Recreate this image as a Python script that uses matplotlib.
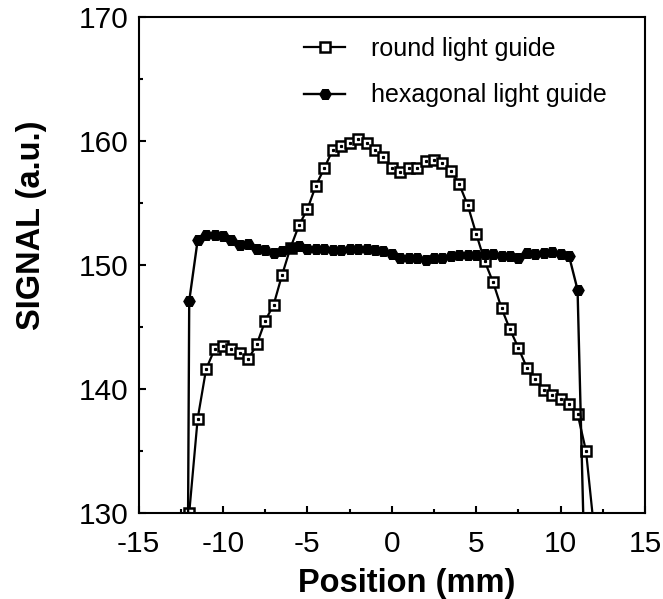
import matplotlib
matplotlib.use("Agg")
import matplotlib.pyplot as plt
from matplotlib.ticker import MultipleLocator

plt.rcParams['font.family'] = ['Liberation Sans', 'DejaVu Sans']
plt.rcParams['axes.unicode_minus'] = False

# position (mm), 0.5 mm steps
pos_round = [-12, -11.5, -11, -10.5, -10, -9.5, -9, -8.5, -8, -7.5, -7, -6.5,
             -6, -5.5, -5, -4.5, -4, -3.5, -3, -2.5, -2, -1.5, -1, -0.5,
             0, 0.5, 1, 1.5, 2, 2.5, 3, 3.5, 4, 4.5, 5, 5.5, 6, 6.5,
             7, 7.5, 8, 8.5, 9, 9.5, 10, 10.5, 11, 11.5, 12]
sig_round = [130.0, 137.6, 141.6, 143.2, 143.5, 143.25, 142.9, 142.4, 143.6, 145.5, 146.8, 149.2,
             151.4, 153.2, 154.5, 156.4, 157.8, 159.3, 159.6, 159.8, 160.2, 159.8, 159.3, 158.7,
             157.8, 157.5, 157.8, 157.8, 158.4, 158.5, 158.25, 157.6, 156.5, 154.8, 152.5, 150.3,
             148.6, 146.5, 144.8, 143.3, 141.7, 140.8, 139.9, 139.5, 139.2, 138.8, 138.0, 135.0, 128.4]

pos_hex = [-12.5, -12, -11.5, -11, -10.5, -10, -9.5, -9, -8.5, -8, -7.5, -7, -6.5,
           -6, -5.5, -5, -4.5, -4, -3.5, -3, -2.5, -2, -1.5, -1, -0.5,
           0, 0.5, 1, 1.5, 2, 2.5, 3, 3.5, 4, 4.5, 5, 5.5, 6, 6.5,
           7, 7.5, 8, 8.5, 9, 9.5, 10, 10.5, 11, 11.5]
sig_hex = [20.0, 147.1, 152.0, 152.4, 152.4, 152.3, 152.0, 151.6, 151.7, 151.3, 151.2, 151.0, 151.15,
           151.35, 151.5, 151.3, 151.3, 151.3, 151.2, 151.2, 151.3, 151.3, 151.3, 151.2, 151.1,
           150.9, 150.6, 150.6, 150.6, 150.4, 150.6, 150.6, 150.7, 150.8, 150.8, 150.8, 150.9, 150.9, 150.7,
           150.7, 150.6, 151.0, 150.9, 151.0, 151.05, 150.9, 150.7, 148.0, 121.0]

fig = plt.figure(figsize=(6.63, 5.99), dpi=100)
ax = fig.add_axes([0.209, 0.1436, 0.764, 0.828])

ax.plot(pos_round, sig_round, color='black', lw=1.6, marker='s', ms=6.5,
        mfc='white', mec='black', mew=1.8, label='round light guide')
# petit point au centre des carres
ax.plot(pos_round, sig_round, ls='none', marker='s', ms=1.3, mfc='black', mec='black')
ax.plot(pos_hex, sig_hex, color='black', lw=1.7, marker='H', ms=8,
        mfc='black', mec='black', label='hexagonal light guide')

ax.set_xlim(-15, 15)
ax.set_ylim(130, 170)
ax.xaxis.set_major_locator(MultipleLocator(5))
ax.xaxis.set_minor_locator(MultipleLocator(2.5))
ax.yaxis.set_major_locator(MultipleLocator(10))
ax.yaxis.set_minor_locator(MultipleLocator(5))
ax.tick_params(which='both', direction='in', width=1.5, labelsize=21.5)
ax.tick_params(which='major', length=5)
ax.tick_params(which='minor', length=3)
ax.tick_params(axis='x', pad=12)
ax.tick_params(axis='y', pad=7)
for s in ax.spines.values():
    s.set_linewidth(1.5)

lab = dict(weight='bold', size=23.5)
ax.set_xlabel('Position (mm)', **lab)
ax.set_ylabel('SIGNAL (a.u.)', **lab)
ax.xaxis.set_label_coords(0.53, -0.11)
ax.yaxis.set_label_coords(-0.18, 0.58)

ax.legend(loc='upper left', bbox_to_anchor=(0.327, 0.96), frameon=False,
          fontsize=18, numpoints=1, handlelength=1.64, handletextpad=1.04,
          labelspacing=0.9, borderpad=0, borderaxespad=0)

fig.savefig('out.png', dpi=100)
